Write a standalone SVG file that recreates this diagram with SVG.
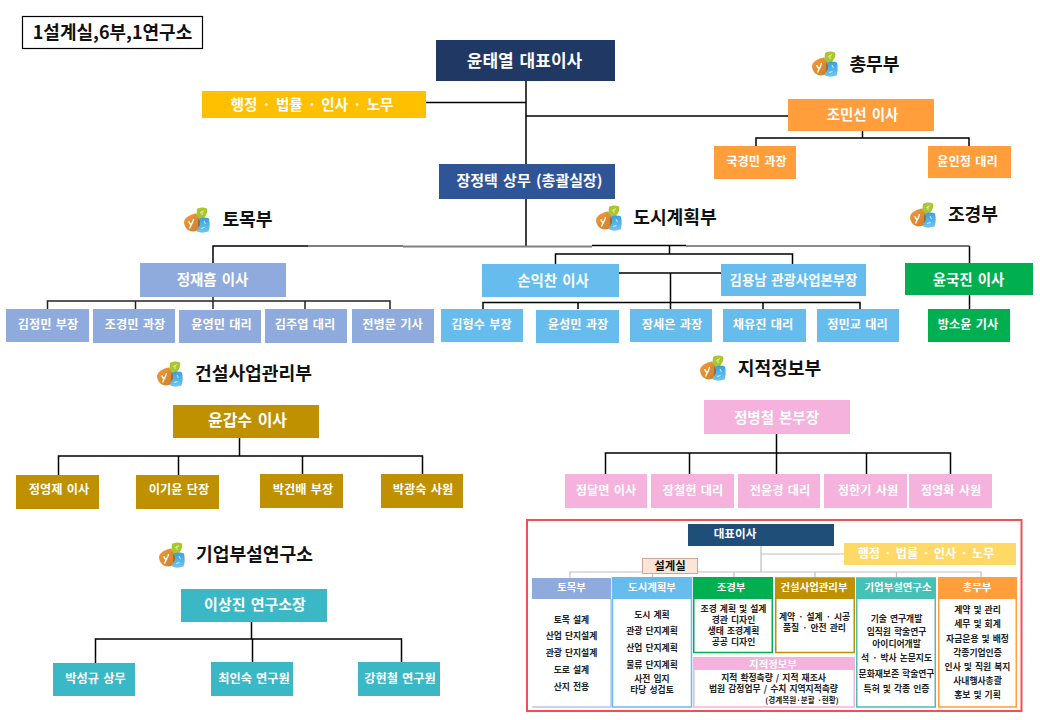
<svg xmlns="http://www.w3.org/2000/svg" xmlns:xlink="http://www.w3.org/1999/xlink" width="1040" height="720" viewBox="0 0 1040 720">
<style>
text{font-family:"Noto Sans CJK KR","Liberation Sans",sans-serif;font-weight:700;text-anchor:middle;dominant-baseline:central;word-spacing:.12em;transform:translateY(-.7px)}
.w{fill:#fff}.k{fill:#111}
.f18{font-size:18px}.f17{font-size:17px}.f16{font-size:16px}.f15{font-size:15px}.f14{font-size:14.5px}.f13{font-size:13.4px}.f12{font-size:12.2px}
.h{font-size:18.2px;fill:#111}
.t{font-size:10.4px;fill:#fff}.b{font-size:8.8px;fill:#222}
.navy{fill:#1f3864}.blue{fill:#2f5597}.gold{fill:#ffc000}.or{fill:#ff9e3b}.per{fill:#8faadc}.sky{fill:#66bcec}.gr{fill:#00b050}.br{fill:#bf9000}.tl{fill:#3bb8c6}.pk{fill:#f4b2dc}
.c path{fill:none;stroke:#000;stroke-width:1.5}
.g path{fill:none;stroke:#bfbfbf;stroke-width:1.2}
.col{fill:#fff;stroke-width:1.5}
</style>
<defs>
<linearGradient id="go" x1="0" y1="0" x2="1" y2="1"><stop offset="0" stop-color="#f39a3c"/><stop offset="1" stop-color="#c9802c"/></linearGradient>
<linearGradient id="gb" x1="0" y1="0" x2="0" y2="1"><stop offset="0" stop-color="#3a9fda"/><stop offset="1" stop-color="#70c6f2"/></linearGradient>
<g id="icon">
<path d="M-12.500 0C-10-4-5-6-1-6.500C2-4 3-1 3 3C3 7 2 10-1 11C-5 12-9 11-11 8C-13 5-13.500 2-12.500 0Z" fill="url(#go)"/>
<path d="M0-11C3-13 7-13 10-11.500C11-8 9-3 5-1C2-1 0-3-.5-6Z" fill="#aac62e"/>
<path d="M1-1C5-3 9-3 12-1.500C13 3 13 8 11.500 11.500C7 13 3 13 0 11.500L1 7Z" fill="url(#gb)"/>
<path d="M1-1L3 1L3 5L1 8Z" fill="#9c6e30"/>
<path d="M-8 1C-8 3-7 4-6 4M-3.500-1C-4 3-6 4-7.500 8.500" stroke="#fff" stroke-width="1.300" fill="none"/>
<path d="M3-7L7-9.500M5-5L5-9" stroke="#e8f2b0" stroke-width=".9" fill="none"/>
<path d="M7 1L8.500 4M4 8.500L7.500 7.500" stroke="#dff2fc" stroke-width=".9" fill="none"/>
</g>
</defs>
<rect width="1040" height="720" fill="#fff"/>

<g id="connectors" class="c">
<path d="M526 81V246M426 102.500H526M526 116H788"/>
<path d="M862.500 131V138M756 146V138H969V146"/>
<path d="M213 263V246H308M969.500 263V246"/>
<path d="M308 246H403" style="stroke:#555"/>
<path d="M403 246.500H592" style="stroke:#808080;stroke-width:2"/>
<path d="M592 245.500H686"/>
<path d="M686 246H880" style="stroke:#666"/>
<path d="M880 246H969.500" style="stroke:#444"/>
<path d="M213 297V309M47.500 309V301H390V309M135.500 301V309M305 301V309" style="stroke:#222"/>
<path d="M669.500 246V254M555.500 264V254H792.500V264M619 273H721M670.500 273V309M483 309V302.500H860V309M578 302.500V309M763 302.500V309"/>
<path d="M969.500 295V309"/>
<path d="M239.500 438V456M58.500 475V456H422.500V474M178.500 456V475M302.500 456V474"/>
<path d="M251.500 622V639M95.500 663V639H401.500V662M252.500 639V662"/>
<path d="M776.500 434V474M605.500 474V453H950.500V474M689.500 453V474M866.500 453V474"/>
</g>

<g id="title"><rect x="22.500" y="16.500" width="180" height="32" fill="#fff" stroke="#000" stroke-width="1.200"/><text x="112.500" y="32" class="k f18">1설계실,6부,1연구소</text></g>
<g id="ceo"><rect class="navy" x="436" y="40" width="179" height="41"/><text x="524.500" y="60.500" class="w f17">윤태열 대표이사</text></g>
<g id="admin"><rect class="gold" x="202" y="91" width="224" height="27"/><text x="312" y="104" class="w f14">행정 · 법률 · 인사 · 노무</text></g>
<g id="exec"><rect class="blue" x="439" y="164" width="176" height="35"/><text x="529.500" y="180.500" class="w f15">장정택 상무 (총괄실장)</text></g>

<g id="hd-chongmu"><use xlink:href="#icon" href="#icon" x="825" y="64"/><text x="874.500" y="64" class="h">총무부</text></g>
<g id="n-jms"><rect class="or" x="788" y="99" width="146" height="32"/><text x="862.500" y="114" class="w f14">조민선 이사</text></g>
<g id="n-kkm"><rect class="or" x="714" y="146" width="82" height="33"/><text x="756.500" y="161.500" class="w f12">국경민 과장</text></g>
<g id="n-yij"><rect class="or" x="928" y="146" width="83" height="32"/><text x="967.500" y="161.500" class="w f12">윤인정 대리</text></g>

<g id="hd-tomok"><use xlink:href="#icon" href="#icon" x="197" y="220"/><text x="247.500" y="219" class="h">토목부</text></g>
<g id="n-jjh"><rect class="per" x="140" y="263" width="146" height="34"/><text x="212.500" y="279" class="w f14">정재흠 이사</text></g>
<g id="n-t1"><rect class="per" x="6" y="309" width="83" height="33"/><text x="48" y="325" class="w f12">김정민 부장</text></g>
<g id="n-t2"><rect class="per" x="93" y="309" width="82" height="34"/><text x="135" y="325" class="w f12">조경민 과장</text></g>
<g id="n-t3"><rect class="per" x="179" y="310" width="82" height="33"/><text x="221.500" y="325" class="w f12">윤영민 대리</text></g>
<g id="n-t4"><rect class="per" x="265" y="309" width="82" height="34"/><text x="305" y="325" class="w f12">김주엽 대리</text></g>
<g id="n-t5"><rect class="per" x="352" y="309" width="82" height="34"/><text x="392.500" y="325" class="w f12">전병문 기사</text></g>

<g id="hd-dosi"><use xlink:href="#icon" href="#icon" x="609" y="218"/><text x="675" y="217" class="h">도시계획부</text></g>
<g id="n-sic"><rect class="sky" x="482" y="264" width="137" height="33"/><text x="553" y="280" class="w f14">손익찬 이사</text></g>
<g id="n-kyn"><rect class="sky" x="721" y="264" width="145" height="32"/><text x="793.500" y="279.500" class="w f13">김용남 관광사업본부장</text></g>
<g id="n-d1"><rect class="sky" x="441" y="309" width="82" height="33"/><text x="481.500" y="325" class="w f12">김형수 부장</text></g>
<g id="n-d2"><rect class="sky" x="536" y="310" width="83" height="33"/><text x="578" y="325" class="w f12">윤성민 과장</text></g>
<g id="n-d3"><rect class="sky" x="630" y="309" width="82" height="33"/><text x="672" y="325" class="w f12">장세은 과장</text></g>
<g id="n-d4"><rect class="sky" x="723" y="309" width="83" height="33"/><text x="763" y="325" class="w f12">채유진 대리</text></g>
<g id="n-d5"><rect class="sky" x="817" y="309" width="82" height="33"/><text x="857.500" y="325" class="w f12">정민교 대리</text></g>

<g id="hd-jogyeong"><use xlink:href="#icon" href="#icon" x="923" y="215"/><text x="973" y="214" class="h">조경부</text></g>
<g id="n-ykj"><rect class="gr" x="905" y="263" width="128" height="32"/><text x="968.500" y="279" class="w f14">윤국진 이사</text></g>
<g id="n-bsy"><rect class="gr" x="928" y="309" width="82" height="33"/><text x="968" y="325" class="w f12">방소윤 기사</text></g>

<g id="hd-geonseol"><use xlink:href="#icon" href="#icon" x="170" y="374"/><text x="253.500" y="373" class="h">건설사업관리부</text></g>
<g id="n-ygs"><rect class="br" x="173" y="405" width="146" height="33"/><text x="247.500" y="420" class="w f16">윤갑수 이사</text></g>
<g id="n-g1"><rect class="br" x="16" y="475" width="83" height="34"/><text x="59" y="489.500" class="w f12">정영제 이사</text></g>
<g id="n-g2"><rect class="br" x="136" y="475" width="83" height="34"/><text x="179" y="489.500" class="w f12">이기윤 단장</text></g>
<g id="n-g3"><rect class="br" x="260" y="474" width="83" height="34"/><text x="303" y="489.500" class="w f12">박건배 부장</text></g>
<g id="n-g4"><rect class="br" x="381" y="474" width="82" height="34"/><text x="423" y="489.500" class="w f12">박광숙 사원</text></g>

<g id="hd-lab"><use xlink:href="#icon" href="#icon" x="172" y="555"/><text x="254.500" y="554" class="h">기업부설연구소</text></g>
<g id="n-lsj"><rect class="tl" x="181" y="589" width="146" height="33"/><text x="255" y="604" class="w f15">이상진 연구소장</text></g>
<g id="n-l1"><rect class="tl" x="53" y="663" width="82" height="33"/><text x="95.500" y="678.500" class="w f12">박성규 상무</text></g>
<g id="n-l2"><rect class="tl" x="211" y="662" width="82" height="34"/><text x="254" y="678.500" class="w f12">최인숙 연구원</text></g>
<g id="n-l3"><rect class="tl" x="358" y="662" width="82" height="34"/><text x="400" y="678.500" class="w f12">강현철 연구원</text></g>

<g id="hd-jijeok"><use xlink:href="#icon" href="#icon" x="713" y="368"/><text x="779.500" y="367.500" class="h">지적정보부</text></g>
<g id="n-jbc"><rect class="pk" x="704" y="400" width="146" height="34"/><text x="776.500" y="417" class="w f14">정병철 본부장</text></g>
<g id="n-j1"><rect class="pk" x="565" y="474" width="82" height="34"/><text x="606" y="490.500" class="w f12">정달면 이사</text></g>
<g id="n-j2"><rect class="pk" x="651" y="474" width="83" height="34"/><text x="693" y="490.500" class="w f12">장철헌 대리</text></g>
<g id="n-j3"><rect class="pk" x="738" y="474" width="82" height="34"/><text x="780" y="490.500" class="w f12">전윤경 대리</text></g>
<g id="n-j4"><rect class="pk" x="824" y="474" width="83" height="34"/><text x="868" y="490.500" class="w f12">정한기 사원</text></g>
<g id="n-j5"><rect class="pk" x="909" y="474" width="83" height="34"/><text x="951" y="490.500" class="w f12">정영화 사원</text></g>

<g id="inset-frame"><rect x="527" y="520" width="494.500" height="191" fill="#fff" stroke="#f05050" stroke-width="2"/></g>
<g id="inset-connectors" class="g"><path d="M761 546V572M761 554H844M570 578V572H981V578M652.500 572V578M734 572V578M815 572V578M896.500 572V578"/></g>
<g id="i-ceo"><rect x="688" y="524" width="146" height="22" fill="#1f4e79"/><text x="735" y="533.500" class="w" style="font-size:11.600px">대표이사</text></g>
<g id="i-admin"><rect x="844" y="543" width="172" height="22" fill="#ffd966"/><text x="926" y="554" class="w" style="font-size:12.200px">행정 · 법률 · 인사 · 노무</text></g>
<g id="i-design"><rect x="642.500" y="558.500" width="55" height="15" fill="#fbe5d6" stroke="#c9a89a"/><text x="670" y="565.500" class="k" style="font-size:11.400px">설계실</text></g>

<g id="i-tomok"><path d="M611 599V707H532" fill="#fff" stroke="#8faadc" stroke-width="1"/><rect class="per" x="532" y="578" width="79" height="21"/><text x="571.500" y="587.500" class="t">토목부</text>
<text x="571.500" y="620.700" class="b">토목 설계</text><text x="571.500" y="636.700" class="b">산업 단지설계</text><text x="571.500" y="653.300" class="b">관광 단지설계</text><text x="571.500" y="670.700" class="b">도로 설계</text><text x="571.500" y="687.700" class="b">산지 전용</text></g>
<g id="i-dosi"><rect class="col" x="612.500" y="578" width="79" height="129" stroke="#66bcec"/><rect class="sky" x="612" y="577" width="80" height="22"/><text x="652" y="587.500" class="t">도시계획부</text>
<text x="652" y="615" class="b">도시 계획</text><text x="652" y="631.700" class="b">관광 단지계획</text><text x="652" y="648" class="b">산업 단지계획</text><text x="652" y="665.700" class="b">물류 단지계획</text><text x="652" y="679.700" class="b">사전 입지</text><text x="652" y="690.700" class="b">타당 성검토</text></g>
<g id="i-jogyeong"><rect class="col" x="693.750" y="578" width="78.500" height="74.500" stroke="#00b050"/><rect class="gr" x="693" y="577" width="80" height="22"/><text x="731" y="587.500" class="t">조경부</text>
<text x="733.500" y="609.700" class="b">조경 계획 및 설계</text><text x="733.500" y="620.700" class="b">경관 디자인</text><text x="733.500" y="631.700" class="b">생태 조경계획</text><text x="733.500" y="642.700" class="b">공공 디자인</text></g>
<g id="i-geonseol"><rect class="col" x="775.750" y="578" width="78.500" height="74.500" stroke="#bf9000"/><rect class="br" x="775" y="578" width="80" height="21"/><text x="814" y="587.500" class="t">건설사업관리부</text>
<text x="814.500" y="617.300" class="b">계약 · 설계 · 시공</text><text x="814.500" y="628.700" class="b">품질 · 안전 관리</text></g>
<g id="i-jijeok"><rect class="col" x="693.750" y="658" width="160.500" height="49" stroke="#f4b2dc"/><rect class="pk" x="693" y="657" width="162" height="13"/><text x="773" y="664" class="t">지적정보부</text>
<text x="773.500" y="678.700" class="b">지적 확정측량 / 지적 재조사</text><text x="773.500" y="689.700" class="b">법원 감정업무 / 수치 지역지적측량</text><text x="802" y="700.500" class="b" style="font-size:7.600px">(경계복원·분할 ·현황)</text></g>
<g id="i-lab"><rect class="col" x="856.750" y="578" width="78.500" height="129" stroke="#47c1b5"/><rect x="856" y="578" width="80" height="21" fill="#47c1b5"/><text x="898" y="587.500" class="t">기업부설연구소</text>
<text x="896.500" y="619.700" class="b">기술 연구개발</text><text x="896.500" y="632.300" class="b">임직원 학술연구</text><text x="896.500" y="644.300" class="b">아이디어개발</text><text x="896.500" y="658.300" class="b">석 · 박사 논문지도</text><text x="896.500" y="674" class="b">문화재보존 학술연구</text><text x="896.500" y="689.300" class="b">특허 및 각종 인증</text></g>
<g id="i-chongmu"><rect class="col" x="938.750" y="578" width="77.500" height="129" stroke="#ff9e3b"/><rect class="or" x="938" y="577" width="79" height="22"/><text x="977" y="587.500" class="t">총무부</text>
<text x="977.500" y="610" class="b">계약 및 관리</text><text x="977.500" y="624" class="b">세무 및 회계</text><text x="977.500" y="639" class="b">자금운용 및 배정</text><text x="977.500" y="653" class="b">각종기업인증</text><text x="977.500" y="667" class="b">인사 및 직원 복지</text><text x="977.500" y="681.700" class="b">사내행사총괄</text><text x="977.500" y="695.700" class="b">홍보 및 기획</text></g>
</svg>
